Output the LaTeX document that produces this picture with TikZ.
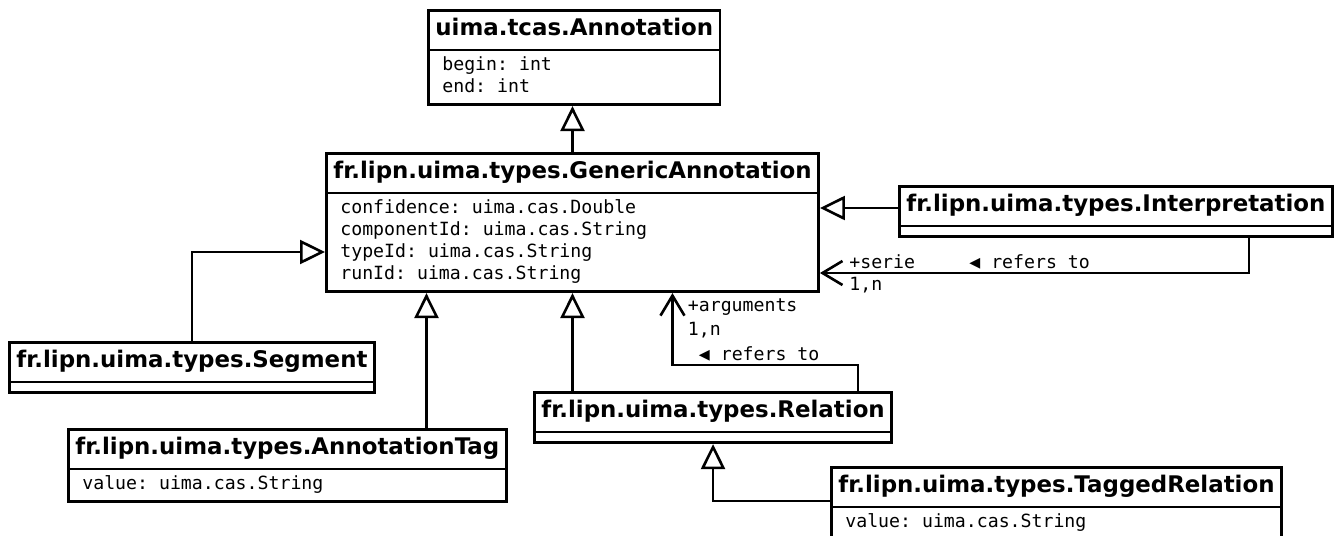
\documentclass[tikz,border=0pt]{standalone}
\usepackage{fontspec}
\setmainfont{DejaVu Sans}
\setmonofont{DejaVu Sans Mono}
\usetikzlibrary{shapes.multipart, arrows.meta}

\newcommand{\clsname}[1]{\fontsize{11.45}{13}\selectfont\bfseries\rule[-4.5pt]{0pt}{14.5pt}#1}
\newcommand{\clsattr}[1]{\fontsize{9.1}{11}\selectfont\ttfamily\begin{tabular}{@{\hspace{3.5pt}}l@{}}#1\end{tabular}}
\newcommand{\noattr}{\rule{1pt}{0pt}}

\tikzset{
	umlclass/.style = {draw, line width = 1.35pt, rectangle split, rectangle split parts = 2,
		rectangle split part align = {center, left}, inner xsep = 3.5pt, inner ysep = 2pt,
		anchor = north west},
	inherit/.style = {line width = 1.3pt, -{Triangle[open, length = 12.5pt, width = 12pt, line width = 1.3pt]}},
	assoc/.style = {line width = 1.3pt, -{Straight Barb[length = 10pt, width = 12pt, line width = 1.3pt]}},
	rolelbl/.style = {font = \fontsize{9.1}{11}\selectfont\ttfamily, inner sep = 0pt, anchor = base west}
}

\begin{document}
\begin{tikzpicture}[x = 0.5pt, y = -0.5pt]
	\useasboundingbox (0,0) rectangle (1342,535);

	% classes
	\node[umlclass] (ann) at (427,9) {\clsname{uima.tcas.Annotation}
		\nodepart{two}\clsattr{begin: int\\ end: int}};
	\node[umlclass] (ga) at (325,152) {\clsname{fr.lipn.uima.types.GenericAnnotation}
		\nodepart{two}\clsattr{confidence: uima.cas.Double\\ componentId: uima.cas.String\\
			typeId: uima.cas.String\\ runId: uima.cas.String}};
	\node[umlclass] (interp) at (898,185) {\clsname{fr.lipn.uima.types.Interpretation}
		\nodepart{two}\noattr};
	\node[umlclass] (seg) at (8,341) {\clsname{fr.lipn.uima.types.Segment}
		\nodepart{two}\noattr};
	\node[umlclass] (atag) at (67,428) {\clsname{fr.lipn.uima.types.AnnotationTag}
		\nodepart{two}\clsattr{value: uima.cas.String}};
	\node[umlclass] (rel) at (533,391) {\clsname{fr.lipn.uima.types.Relation}
		\nodepart{two}\noattr};
	\node[umlclass] (trel) at (830,466) {\clsname{fr.lipn.uima.types.TaggedRelation}
		\nodepart{two}\clsattr{value: uima.cas.String}};

	% generalizations
	\coordinate (gaA) at ([xshift = -73pt]ga.south);
	\coordinate (gaL) at ([yshift = -50pt]ga.north west);
	\coordinate (interpL) at ([yshift = -11.5pt]interp.north west);
	\coordinate (trelL) at ([yshift = -17.5pt]trel.north west);
	\draw[inherit] (ga.north) -- (ga.north |- ann.south);
	\draw[inherit] (interpL) -- (ga.east |- interpL);
	\draw[inherit] (seg.north) |- (gaL);
	\draw[inherit] (gaA |- atag.north) -- (gaA);
	\draw[inherit] (ga.south |- rel.north) -- (ga.south);
	\draw[inherit] (trelL) -| (rel.south);

	% associations
	\coordinate (gaS) at ([yshift = -60.5pt]ga.north east);
	\coordinate (gaB) at ([xshift = 50pt]ga.south);
	\coordinate (relB) at ([xshift = 72.5pt, yshift = 13pt]rel.north);
	\draw[assoc] ([xshift = 66.5pt]interp.south) |- (gaS);
	\node[rolelbl] (serie) at ([xshift = 14.5pt, yshift = 2.5pt]gaS) {+serie};
	\node[rolelbl] (serieMult) at ([xshift = 14.5pt, yshift = -8.5pt]gaS) {1,n};
	\node[rolelbl] (serieRef) at ([xshift = 74.5pt, yshift = 2.5pt]gaS) {◀ refers to};

	\draw[assoc] ([xshift = 72.5pt]rel.north) -- (relB) -| (gaB);
	\node[rolelbl] (args) at ([xshift = 7.5pt, yshift = -9pt]gaB) {+arguments};
	\node[rolelbl] (argsMult) at ([xshift = 7.5pt, yshift = -21pt]gaB) {1,n};
	\node[rolelbl] (argsRef) at ([xshift = 13pt, yshift = 2.5pt]gaB |- relB) {◀ refers to};
\end{tikzpicture}
\end{document}
